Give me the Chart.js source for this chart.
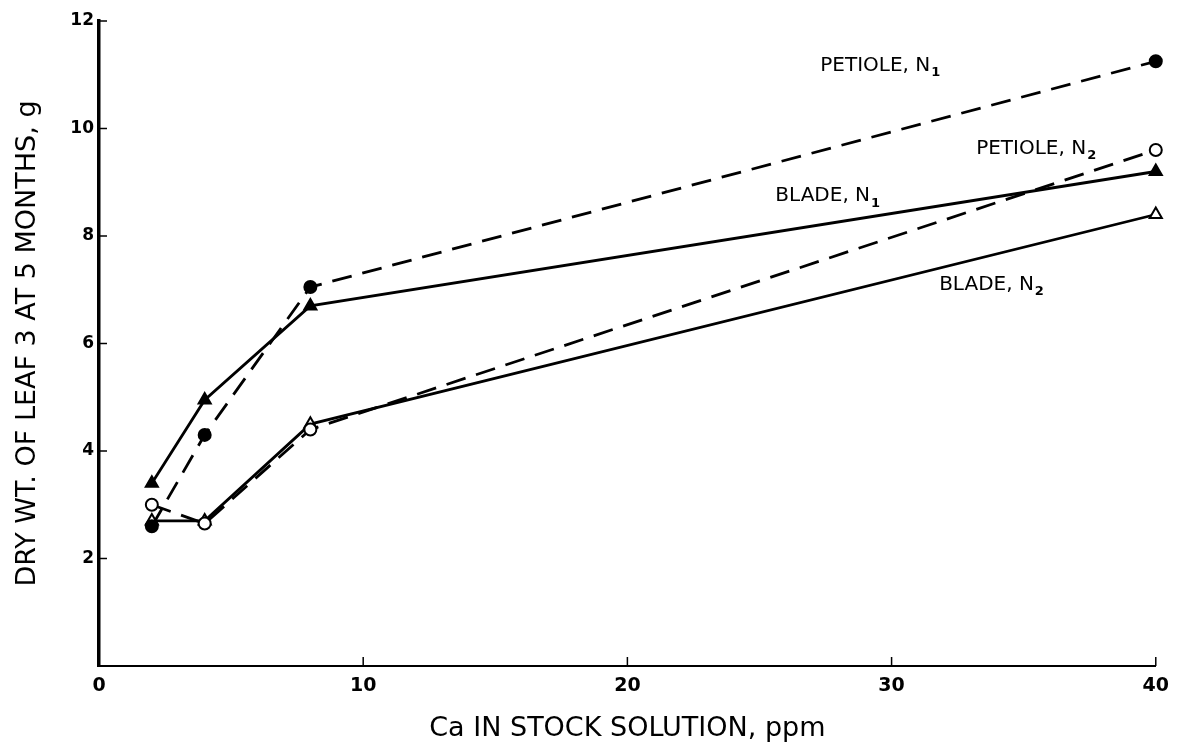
<!DOCTYPE html>
<html>
<head>
<meta charset="utf-8">
<script src="https://cdn.jsdelivr.net/npm/chart.js@4/dist/chart.umd.min.js"></script>
<style>
  html, body { margin: 0; padding: 0; background: #fff; }
  #wrap { width: 1178px; height: 755px; }
</style>
</head>
<body>
<div id="wrap"><canvas id="chartCanvas"></canvas></div>
<script>
// -------- DATA --------
const caPpm = [2, 4, 8, 40];
const petioleN1 = [2.6, 4.3, 7.05, 11.25];
const bladeN1 = [3.4, 4.95, 6.7, 9.2];
const petioleN2 = [3.0, 2.65, 4.4, 9.6];
const bladeN2 = [2.7, 2.7, 4.5, 8.4];
const xTicks = [0, 10, 20, 30, 40];
const yTicks = [2, 4, 6, 8, 10, 12];

// curve labels: [text, subscript, x, y] in data units
const curveLabels = [
    ['PETIOLE, N', '1', 27.3, 11.17],
    ['PETIOLE, N', '2', 33.2, 9.63],
    ['BLADE, N', '1', 25.6, 8.74],
    ['BLADE, N', '2', 31.8, 7.09]
];

const FONT = '"DejaVu Sans", sans-serif';

function pts(ys) {
    return caPpm.map((x, i) => ({ x: x, y: ys[i] }));
}

function series(label, ys, dashed, pointStyle, filled) {
    return {
        label: label,
        data: pts(ys),
        clip: false,
        borderColor: '#000',
        borderWidth: 2.8,
        borderDash: dashed ? [20, 11] : [],
        pointStyle: pointStyle,
        pointRadius: pointStyle === 'triangle' ? 7 : 6,
        pointBorderWidth: 2,
        pointBackgroundColor: filled ? '#000' : '#fff',
        pointBorderColor: '#000',
        fill: false,
        tension: 0
    };
}

// tick marks pointing into the plot, plus curve labels
const extrasPlugin = {
    id: 'extras',
    afterDatasetsDraw(chart) {
        const ctx = chart.ctx;
        const xs = chart.scales.x, ys = chart.scales.y;
        const area = chart.chartArea;
        ctx.save();
        ctx.strokeStyle = '#000';
        ctx.lineWidth = 1.5;
        xTicks.forEach(v => {
            if (v === 0) return;
            const px = xs.getPixelForValue(v);
            ctx.beginPath();
            ctx.moveTo(px, area.bottom);
            ctx.lineTo(px, area.bottom - 9);
            ctx.stroke();
        });
        yTicks.forEach(v => {
            const py = ys.getPixelForValue(v);
            ctx.beginPath();
            ctx.moveTo(area.left, py);
            ctx.lineTo(area.left + 8, py);
            ctx.stroke();
        });

        ctx.fillStyle = '#000';
        ctx.textBaseline = 'middle';
        ctx.textAlign = 'left';
        curveLabels.forEach(l => {
            const px = xs.getPixelForValue(l[2]);
            const py = ys.getPixelForValue(l[3]);
            ctx.font = '20px ' + FONT;
            ctx.fillText(l[0], px, py);
            const w = ctx.measureText(l[0]).width;
            ctx.font = 'bold 13px ' + FONT;
            ctx.fillText(l[1], px + w + 1, py + 7);
        });
        ctx.restore();
    }
};

new Chart(document.getElementById('chartCanvas'), {
    type: 'line',
    data: {
        datasets: [
            series('Petiole, N1', petioleN1, true, 'circle', true),
            series('Blade, N1', bladeN1, false, 'triangle', true),
            series('Petiole, N2', petioleN2, true, 'circle', false),
            series('Blade, N2', bladeN2, false, 'triangle', false)
        ]
    },
    options: {
        responsive: true,
        maintainAspectRatio: false,
        animation: false,
        layout: { padding: { top: 21, right: 19, left: 0, bottom: 6 } },
        plugins: {
            legend: { display: false },
            tooltip: { enabled: false }
        },
        scales: {
            x: {
                type: 'linear',
                min: 0,
                max: 40,
                afterBuildTicks: s => { s.ticks = xTicks.map(v => ({ value: v })); },
                grid: { display: false, drawTicks: false },
                border: { display: true, color: '#000', width: 2 },
                ticks: { color: '#000', padding: 9, font: { family: FONT, size: 19, weight: 'bold' } },
                title: {
                    display: true,
                    text: 'Ca IN STOCK SOLUTION, ppm',
                    color: '#000',
                    font: { family: FONT, size: 27 },
                    padding: { top: 18 }
                },
                afterFit: s => { s.height = 755 - 666 - 6; }
            },
            y: {
                type: 'linear',
                min: 0,
                max: 12,
                afterBuildTicks: s => { s.ticks = yTicks.map(v => ({ value: v })); },
                grid: { display: false, drawTicks: false },
                border: { display: true, color: '#000', width: 3.5 },
                ticks: { color: '#000', padding: 5, font: { family: FONT, size: 17, weight: 'bold' } },
                title: {
                    display: true,
                    text: 'DRY WT. OF LEAF 3 AT 5 MONTHS, g',
                    color: '#000',
                    font: { family: FONT, size: 27 },
                    padding: { bottom: 0, top: 12 }
                },
                afterFit: s => { s.width = 99; }
            }
        }
    },
    plugins: [extrasPlugin]
});
</script>
</body>
</html>
